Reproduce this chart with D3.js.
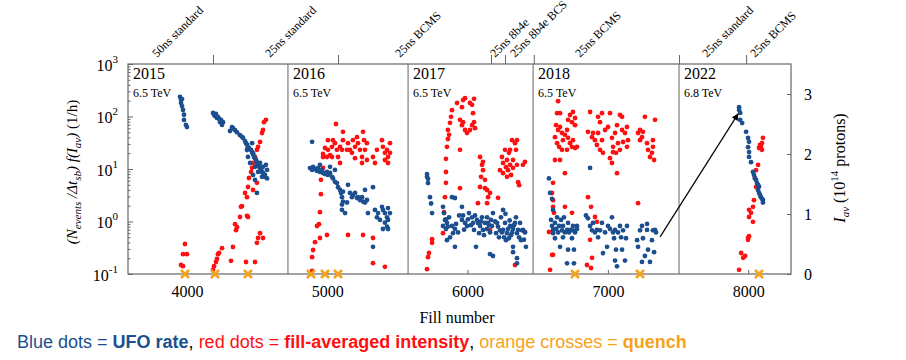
<!DOCTYPE html>
<html lang="en">
<head>
<meta charset="utf-8">
<title>UFO rate vs fill number</title>
<script src="https://cdn.jsdelivr.net/npm/d3@7"></script>
<style>
  body { margin: 0; background: #fff; }
  svg text { font-family: "Liberation Serif", "Times New Roman", serif; }
</style>
</head>
<body>
<script>
// ---- data ----
var yearNames = ["2015", "2016", "2017", "2018", "2022"];
var yearEnergy = ["6.5 TeV", "6.5 TeV", "6.5 TeV", "6.5 TeV", "6.8 TeV"];
var yearStart = [3580, 4720, 5576, 6467, 7507];

var beamTicks = [4186, 5077, 6167, 6267, 6472, 7507, 7985];
var beamLabels = ["50ns standard", "25ns standard", "25ns BCMS", "25ns 8b4e", "25ns 8b4e BCS",
                  "25ns BCMS", "25ns standard", "25ns BCMS"];
var beamLabelFill = [3787, 4592, 5519, 6196, 6338, 6801, 7707, 8049];

var fillTicks = [4000, 5000, 6000, 7000, 8000];
var rateTicks = [0.1, 1, 10, 100, 1000];
var intensityTicks = [0, 1, 2, 3];

var quenchFills = [3986, 4200, 4435, 4884, 4984, 5077, 6766, 7229, 8077];

// blue: [fill, UFO rate (1/h)]
var ufo2015 = [[3951,235],[3958,206],[3958,181],[3965,215],[3965,158],[3972,133],[3979,108],[3979,86],[3993,69],[4000,63],
  [4186,117],[4193,108],[4200,102],[4207,112],[4214,94],[4221,98],[4229,90],[4236,78],[4243,86],[4250,69],[4257,78],
  [4307,53],[4321,63],[4328,60],[4343,55],[4357,50],[4378,44],[4392,41],[4400,39],[4414,34],[4421,31],[4428,29],[4435,26],
  [4442,25],[4457,23],[4464,21],[4471,20],[4471,19],[4478,17],[4485,16],[4492,15],[4499,13.5],[4499,13],[4507,12],[4514,11],
  [4521,10.4],[4528,9.6],[4535,8.8],[4542,8.4],[4556,7.7],[4571,9.6],[4563,12],[4556,7.1],[4571,6.6],[4499,3.5],[4485,6.2],
  [4471,7.7],[4450,13],[4435,17],[4428,23],[4464,31],[4485,11],[4521,13],[4542,11],[4535,7.1],[4507,8.8]];
var ufo2016 = [[4892,33],[4877,10.4],[4892,9.6],[4899,11],[4913,10],[4927,9.2],[4934,10.4],[4948,8.8],[4963,9.6],[4970,8.4],
  [4984,8],[4998,8.8],[5005,7.7],[5020,8.4],[5034,7.1],[5041,6.6],[5055,5.7],[5069,5.4],[5077,4.5],[5091,4],[5098,3.5],
  [5105,2.9],[5112,3.7],[5112,2.4],[5105,2.1],[5127,1.45],[5148,5],[5162,3.5],[5176,2.9],[5183,3.2],[5198,3.5],[5212,2.8],
  [5219,2.9],[5233,2.57],[5248,2.9],[5255,2.4],[5269,2.3],[5283,2.57],[5269,4],[5141,2.3],[5105,1.66],[5290,1.45],[5326,4.5],
  [5340,1.66],[5354,1.2],[5362,1.45],[5390,1.9],[5397,1.66],[5411,1.45],[5426,1.2],[5433,1.07],[5411,0.95],[5426,0.8],
  [5433,0.72],[5397,0.72],[5376,1.07],[5326,0.33],[5447,1.45],[5433,1.8],[5020,11],[4948,12],[5055,9.6]];
var ufo2017 = [[5711,8],[5711,7.1],[5718,6.5],[5718,5.4],[5732,2.9],[5740,2.2],[5747,1.45],
  [5825,1.9],[5832,1.45],[5839,1.07],[5825,0.82],[5846,0.72],[5853,0.94],[5868,1.2],[5889,2.9],[5889,0.82],[5896,0.6],
  [5875,0.5],[5910,0.72],[5932,0.62],[5960,1.07],[5960,1.9],[5968,1.3],[5982,0.94],[5996,0.82],[6010,1.45],[6032,1.2],
  [6039,0.94],[6046,0.69],[6060,0.33],[6067,1.07],[6074,0.94],[6089,0.82],[6103,1.2],[6110,0.69],[6124,0.94],[6139,1.2],
  [6139,0.72],[6146,0.94],[6160,0.62],[6167,1.07],[6174,0.82],[6160,0.24],[6181,0.22],[6181,1.45],[6210,0.94],[6217,0.8],
  [6231,0.68],[6238,1.2],[6245,0.62],[6253,0.69],[6267,0.94],[6274,0.44],[6281,0.6],[6288,0.72],[6295,0.48],[6303,0.82],
  [6317,0.62],[6324,0.72],[6324,0.33],[6338,0.94],[6345,1.2],[6352,0.6],[6352,0.2],[6360,0.69],[6374,0.94],[6381,0.44],
  [6388,0.68],[6395,0.69],[6409,0.62],[6416,0.33],[6352,0.16],[6324,0.26],[6253,1.66],[5853,0.44],[5910,0.33],[5910,2.8],
  [5846,1.1],[5860,0.8],[5918,0.9],[5940,1.3],[5975,0.7],[6003,1.1],[6025,0.85],[6053,1.3],[6082,0.6],[6096,1.0],
  [6117,0.55],[6153,0.85],[6196,1.0],[6203,0.6],[6224,0.5],[6260,0.5],[6310,0.55],[6331,0.85],[6367,0.5],[6402,0.45],
  [6270,1.4],[6300,1.05]];
var ufo2018 = [[6580,6.6],[6588,3.5],[6602,2.7],[6609,1.66],
  [6595,1.07],[6602,0.82],[6609,0.69],[6623,0.94],[6631,0.72],[6638,1.2],[6645,0.62],[6652,0.82],[6666,1.07],[6673,0.68],
  [6680,0.5],[6680,0.82],[6687,1.2],[6694,0.62],[6709,0.69],[6716,0.29],[6716,0.94],[6723,0.62],[6730,0.69],[6744,0.48],
  [6751,0.68],[6751,0.82],[6758,0.29],[6766,0.62],[6780,0.72],[6780,0.82],[6709,0.16],[6758,0.16],[6659,0.33],[6623,0.48],
  [6609,0.6],
  [6873,10.5],[6844,1.3],[6858,1.15],[6873,0.82],[6887,0.68],[6894,0.94],[6908,0.62],[6922,0.69],[6930,0.5],[6944,0.68],
  [6958,0.94],[6965,0.25],[6980,0.62],[7001,0.82],[7015,0.72],[7029,1.2],[7037,0.62],[7044,0.48],[7051,0.69],[7058,0.29],
  [7065,0.14],[7072,0.62],[7086,0.82],[7094,0.5],[7101,0.29],[7108,0.68],[7122,0.18],[7129,0.48],[7136,0.82],[7051,0.18],
  [6994,0.33],
  [7208,0.44],[7215,0.33],[7229,0.68],[7243,0.82],[7250,0.48],[7264,0.22],[7279,0.69],[7286,0.29],[7300,0.17],[7314,0.44],
  [7321,0.68],[7336,0.69],[7329,0.26],[7343,0.62],[7279,0.9],[7243,0.17]];
var ufo2022 = [[7935,150],[7935,133],[7943,117],[7943,86],[7957,75],[7985,51],[7999,39],[8006,33],[7999,26],[8006,21],
  [8006,17],[8020,13.5],[8034,8.8],[8041,7.7],[8048,6.6],[8063,5.4],[8077,4.6],[8070,4],[8077,3.5],[8091,2.9],[8105,2.57],
  [8105,2.3],[8056,6.2],[8070,5],[8084,3.2],[8098,2.7]];

// red: [fill, fill-averaged intensity (1e14 protons)]
var int2015 = [[3986,0.5],[3972,0.33],[4000,0.33],[3958,0.15],[3972,0.13],
  [4186,0.07],[4193,0.13],[4207,0.2],[4214,0.25],[4221,0.33],[4229,0.35],[4250,0.43],
  [4314,0.22],[4328,0.45],[4343,0.83],[4350,0.73],[4357,0.78],[4378,0.95],[4385,1.12],[4392,1.13],[4414,1.35],[4428,1.28],
  [4435,1.45],[4442,1.6],[4457,1.7],[4464,1.77],[4471,1.85],[4485,1.95],[4499,2.07],[4507,2.12],[4521,2.2],[4535,2.35],
  [4542,2.4],[4549,2.53],[4563,2.57],[4435,0.95],[4428,0.97],[4485,0.2],[4421,0.2],[4499,0.52],[4507,0.6],[4521,0.68],
  [4542,0.6],[4471,1.4],[4499,1.52]];
var int2016 = [[4892,0.05],[4892,0.28],[4899,0.4],[4913,0.53],[4927,0.8],[4941,0.83],[4948,1.03],[4955,1.33],[4955,1.57],
  [4970,1.77],[4970,1.95],[4948,0.6],[4998,0.65],
  [4970,2.0],[4984,2.1],[4998,1.95],[5005,2.07],[5020,1.98],[5034,2.12],[5041,2.23],[5055,2.18],[5062,2.5],[5069,2.07],
  [5077,1.95],[5091,1.85],[5105,2.07],[5112,2.37],[5112,2.23],[5091,2.12],[5141,2.07],[5148,2.18],[5162,2.07],[5176,2.02],
  [5183,2.23],[5198,2.12],[5212,2.28],[5219,2.18],[5233,2.07],[5248,1.95],[5255,2.37],[5262,2.23],[5269,2.07],[5283,1.9],
  [5283,2.18],[5248,1.85],[5198,1.93],[5326,1.95],[5340,1.85],[5354,2.07],[5390,2.23],[5397,2.12],[5411,2.02],[5426,2.07],
  [5433,1.95],[5447,2.18],[5433,1.85],[5411,1.9],[5447,2.02],[5005,2.23],[5034,1.95],
  [5148,0.65],[5255,0.65],[5326,0.6],[5326,0.18],[5411,0.12]];
var int2017 = [[5711,0.08],[5718,0.28],[5725,0.35],[5747,0.52],[5747,0.58],
  [5825,0.68],[5832,1.03],[5839,1.28],[5846,1.52],[5846,1.7],[5846,1.92],[5853,2.12],[5860,2.25],[5868,2.32],[5860,2.4],
  [5875,2.52],[5882,2.62],[5889,2.73],[5946,2.07],[5946,1.43],
  [5925,2.85],[5960,2.78],[5968,2.9],[5982,2.93],[6017,2.85],[6032,2.82],[6046,2.92],[6039,2.68],[6046,2.53],[6053,2.43],
  [6017,2.4],[5982,2.4],[5960,2.48],[5946,2.57],[5968,2.53],[6032,2.48],[5996,2.35],
  [6089,1.95],[6103,1.82],[6110,1.73],[6096,1.62],[6124,1.57],[6089,1.45],[6139,1.4],[6146,1.28],[6160,1.35],[6139,1.18],
  [6124,1.43],[6110,1.87],[6160,0.73],[6217,1.27],[6074,1.18],
  [6245,1.95],[6253,1.85],[6267,2.07],[6274,1.78],[6281,1.9],[6288,1.73],[6295,2.02],[6303,1.82],[6310,1.65],[6317,2.23],
  [6324,1.9],[6324,1.77],[6338,2.18],[6345,2.07],[6352,1.82],[6360,1.53],[6367,1.48],[6352,2.23],[6253,1.68],[6231,1.73],
  [6281,1.62],[6409,1.87],[6395,1.82],[6338,0.15],[6409,0.7],[6303,2.07]];
var int2018 = [[6588,0.07],[6602,0.32],[6609,0.32],[6609,1.52],[6602,1.35],[6609,1.23],[6609,1.12],[6616,1.02],[6580,0.7],
  [6694,1.68],[6694,1.12],[6744,1.02],
  [6645,2.88],[6638,2.68],[6659,2.68],[6631,2.48],[6645,2.4],[6659,2.45],[6673,2.35],[6623,2.28],[6638,2.18],[6652,2.12],
  [6673,2.07],[6680,2.23],[6694,2.32],[6709,2.4],[6716,2.27],[6730,2.18],[6744,2.12],[6751,2.23],[6766,2.1],[6780,2.12],
  [6716,2.57],[6730,2.65],[6751,2.7],[6766,2.6],[6744,2.53],[6709,2.07],[6659,1.9],[6623,1.9],[6766,2.48],
  [6873,2.7],[6858,2.37],[6887,2.28],[6894,2.35],[6908,2.23],[6922,2.15],[6930,2.62],[6944,2.53],[6958,2.68],[6930,2.35],
  [6944,2.07],[6958,2.23],[6965,2.02],[6980,2.4],[7001,2.45],[7015,2.68],[7029,2.27],[7037,2.12],[7037,2.03],[7051,2.35],
  [7058,2.02],[7065,2.48],[7072,2.18],[7086,2.07],[7101,2.62],[7101,2.4],[7108,2.2],[7122,2.35],[7136,2.45],[7136,2.12],
  [7143,2.23],[7086,2.65],[7015,1.93],[7065,1.68],[7029,1.85],
  [7215,2.35],[7229,2.4],[7243,2.28],[7250,2.37],[7264,2.62],[7279,2.18],[7286,2.07],[7300,1.95],[7314,2.02],[7321,2.12],
  [7329,1.9],[7336,2.57],[7321,2.23],[7229,2.23],
  [6858,1.28],[6880,1.12],[6908,0.95],[6922,0.87],[6873,0.57],[6851,0.15],[6880,0.1],[6887,0.27],[7215,1.18]];
var int2022 = [[7935,0.07],[7950,0.35],[7964,0.27],[7978,0.3],[7999,0.6],[7999,0.57],[8006,0.63],[8006,1.07],[8020,1.02],
  [8006,0.95],[8034,0.87],[8034,1.12],[8041,1.23],[8056,1.45],[8048,1.6],[8056,1.73],[8070,1.82],[8077,2.1],[8084,2.15],
  [8091,2.12],[8098,2.18],[8105,2.27],[8098,2.07]];

var arrowFrom = [7372, 0.51];
var arrowTo = [7928, 112];

// ---- layout ----
var w = 906, h = 360;
var padL = 128, padR = 791, padT = 64, padB = 274;
var blue = "#1c4f8f", red = "#ff1010", orange = "#f7a21b", frame = "#666";

var xScale = d3.scaleLinear().domain([3580, 8305]).range([padL, padR]);
var yRate = d3.scaleLog().domain([0.1, 1000]).range([padB, padT]);
var yInt = d3.scaleLinear().domain([0, 3.5]).range([padB, padT]);

var svg = d3.select("body").append("svg")
    .attr("width", w)
    .attr("height", h);

svg.append("defs").append("marker")
    .attr("id", "head")
    .attr("viewBox", "0 0 10 10")
    .attr("refX", 9).attr("refY", 5)
    .attr("markerWidth", 9).attr("markerHeight", 7)
    .attr("markerUnits", "userSpaceOnUse")
    .attr("orient", "auto")
    .append("path").attr("d", "M0,0L10,5L0,10Z").attr("fill", "#000");

//year panels
svg.selectAll("line.year")
    .data(yearStart.slice(1))
    .enter().append("line")
    .attr("class", "year")
    .attr("x1", function (d) { return xScale(d); })
    .attr("x2", function (d) { return xScale(d); })
    .attr("y1", padT).attr("y2", padB)
    .attr("stroke", frame).attr("stroke-width", 1);

svg.selectAll("text.yname")
    .data(yearNames)
    .enter().append("text")
    .attr("x", function (d, i) { return xScale(yearStart[i]) + 5; })
    .attr("y", 79)
    .attr("font-size", 16)
    .text(function (d) { return d; });

svg.selectAll("text.energy")
    .data(yearEnergy)
    .enter().append("text")
    .attr("x", function (d, i) { return xScale(yearStart[i]) + 5; })
    .attr("y", 97)
    .attr("font-size", 12)
    .text(function (d) { return d; });

//axes
var gx = svg.append("g")
    .attr("transform", "translate(0," + padB + ")")
    .call(d3.axisBottom(xScale).tickValues(fillTicks).tickSize(-4).tickPadding(12).tickFormat(d3.format("d")));
gx.selectAll("text").attr("font-size", 16).attr("font-family", "Liberation Serif").attr("fill", "#000");

svg.append("g")
    .attr("transform", "translate(0," + padT + ")")
    .call(d3.axisTop(xScale).tickValues(beamTicks).tickSize(9).tickFormat(""));

var minor = [];
rateTicks.slice(0, -1).forEach(function (p) {
    for (var k = 2; k < 10; k++) minor.push(p * k);
});
svg.append("g")
    .attr("transform", "translate(" + padL + ",0)")
    .call(d3.axisLeft(yRate).tickValues(minor).tickSize(-2.5).tickFormat(""));

var gl = svg.append("g")
    .attr("transform", "translate(" + padL + ",0)")
    .call(d3.axisLeft(yRate).tickValues(rateTicks).tickSize(-5).tickFormat(""));
gl.selectAll(".tick").append("text")
    .attr("x", -10).attr("y", 6)
    .attr("text-anchor", "end")
    .attr("fill", "#000")
    .attr("font-size", 16)
    .attr("font-family", "Liberation Serif")
    .each(function (d) {
        var t = d3.select(this);
        t.append("tspan").text("10");
        t.append("tspan").attr("dy", -8).attr("font-size", 11).text(Math.round(Math.log10(d)));
    });

var gr = svg.append("g")
    .attr("transform", "translate(" + padR + ",0)")
    .call(d3.axisRight(yInt).tickValues(intensityTicks).tickSize(-4).tickPadding(13).tickFormat(d3.format("d")));
gr.selectAll("text").attr("font-size", 16).attr("font-family", "Liberation Serif").attr("fill", "#000");

svg.selectAll(".domain").remove();
svg.selectAll(".tick line").attr("stroke", frame);

svg.append("rect")
    .attr("x", padL).attr("y", padT)
    .attr("width", padR - padL).attr("height", padB - padT)
    .attr("fill", "none").attr("stroke", frame).attr("stroke-width", 1.2);

//beam type labels
svg.selectAll("text.beam")
    .data(beamLabels)
    .enter().append("text")
    .attr("transform", function (d, i) {
        return "translate(" + xScale(beamLabelFill[i]) + ",58) rotate(-45)";
    })
    .attr("font-size", 12)
    .text(function (d) { return d; });

//points
function dots(data, yScale, color) {
    svg.append("g").selectAll("circle")
        .data(data)
        .enter().append("circle")
        .attr("cx", function (d) { return xScale(d[0]); })
        .attr("cy", function (d) { return yScale(d[1]); })
        .attr("r", 2.4)
        .attr("fill", color);
}
[int2015, int2016, int2017, int2018, int2022].forEach(function (s) { dots(s, yInt, red); });
[ufo2015, ufo2016, ufo2017, ufo2018, ufo2022].forEach(function (s) { dots(s, yRate, blue); });

//quenches
svg.append("g").selectAll("path")
    .data(quenchFills)
    .enter().append("path")
    .attr("transform", function (d) { return "translate(" + xScale(d) + "," + padB + ")"; })
    .attr("d", "M-4,-4L4,4M-4,4L4,-4")
    .attr("stroke", orange).attr("stroke-width", 2.6).attr("fill", "none");

//arrow
svg.append("line")
    .attr("x1", xScale(arrowFrom[0])).attr("y1", yRate(arrowFrom[1]))
    .attr("x2", xScale(arrowTo[0])).attr("y2", yRate(arrowTo[1]))
    .attr("stroke", "#000").attr("stroke-width", 1.2)
    .attr("marker-end", "url(#head)");

//axis titles
var lt = svg.append("text")
    .attr("transform", "translate(77,172) rotate(-90)")
    .attr("text-anchor", "middle")
    .attr("font-size", 15);
lt.append("tspan").attr("font-style", "italic").text("(N");
lt.append("tspan").attr("font-style", "italic").attr("font-size", 11).attr("dy", 4).text("events");
lt.append("tspan").attr("font-style", "italic").attr("dy", -4).text(" /\u0394t");
lt.append("tspan").attr("font-style", "italic").attr("font-size", 11).attr("dy", 4).text("sb");
lt.append("tspan").attr("font-style", "italic").attr("dy", -4).text(") f(I");
lt.append("tspan").attr("font-style", "italic").attr("font-size", 11).attr("dy", 4).text("av");
lt.append("tspan").attr("font-style", "italic").attr("dy", -4).text(")");
lt.append("tspan").text(" (1/h)");

var rt = svg.append("text")
    .attr("transform", "translate(845,168) rotate(-90)")
    .attr("text-anchor", "middle")
    .attr("font-size", 16);
rt.append("tspan").attr("font-style", "italic").text("I");
rt.append("tspan").attr("font-style", "italic").attr("font-size", 11).attr("dy", 4).text("av");
rt.append("tspan").attr("dy", -4).text(" (10");
rt.append("tspan").attr("font-size", 11).attr("dy", -7).text("14");
rt.append("tspan").attr("dy", 7).text(" protons)");

svg.append("text")
    .attr("x", 457).attr("y", 323)
    .attr("text-anchor", "middle")
    .attr("font-size", 16)
    .text("Fill number");

//legend line
var lg = svg.append("text")
    .attr("x", 17).attr("y", 348)
    .attr("font-size", 18)
    .style("font-family", "'Liberation Sans', Arial, sans-serif");
lg.append("tspan").attr("fill", blue).text("Blue dots = ");
lg.append("tspan").attr("fill", blue).attr("font-weight", "bold").text("UFO rate");
lg.append("tspan").attr("fill", "#000").text(", ");
lg.append("tspan").attr("fill", red).text("red dots = ");
lg.append("tspan").attr("fill", red).attr("font-weight", "bold").text("fill-averaged intensity");
lg.append("tspan").attr("fill", "#000").text(", ");
lg.append("tspan").attr("fill", orange).text("orange crosses = ");
lg.append("tspan").attr("fill", orange).attr("font-weight", "bold").text("quench");
</script>
</body>
</html>
